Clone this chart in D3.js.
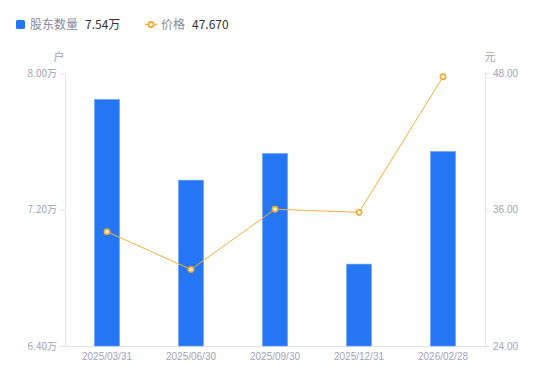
<!DOCTYPE html>
<html><head><meta charset="utf-8">
<script src="https://cdn.jsdelivr.net/npm/d3@7"></script>
<style>body{margin:0;background:#fff;}svg{display:block;font-family:"Noto Sans CJK SC","Noto Sans",sans-serif;}</style>
</head><body>
<svg id="c" width="550" height="381"></svg>
<script>
const categories = ["2025/03/31","2025/06/30","2025/09/30","2025/12/31","2026/02/28"];
const holders = [7.845, 7.372, 7.528, 6.88, 7.54];   // 万户
const prices = [34.05, 30.73, 36.02, 35.75, 47.67];   // 元
const leftTicks = [6.4, 7.2, 8.0];
const rightTicks = [24, 36, 48];

const svg = d3.select("#c");
const L = 65, R = 485, T = 73, B = 346;
const x = d3.scaleBand().domain(categories).range([L, R]);
const yL = d3.scaleLinear().domain([6.4, 8.0]).range([B, T]);
const yR = d3.scaleLinear().domain([24, 48]).range([B, T]);
const axisColor = "#e3e3e8", labelColor = "#a3a3b3";

// axes
const gL = svg.append("g").attr("transform", `translate(${L},0)`)
  .call(d3.axisLeft(yL).tickValues(leftTicks).tickSize(5).tickPadding(3).tickFormat(d => d3.format(".2f")(d) + "万"));
const gR = svg.append("g").attr("transform", `translate(${R},0)`)
  .call(d3.axisRight(yR).tickValues(rightTicks).tickSize(5).tickPadding(3).tickFormat(d3.format(".2f")));
const gX = svg.append("g").attr("transform", `translate(0,${B})`)
  .call(d3.axisBottom(x).tickSize(0).tickPadding(7));
[gL, gR, gX].forEach(g => {
  g.selectAll("path,line").attr("stroke", axisColor);
  g.selectAll("text").attr("fill", labelColor).style("font-size", "10px").style("font-family", "Liberation Sans, Arial, sans-serif");
});
gL.selectAll("text").style("font-family", "'Noto Sans CJK SC',sans-serif").style("font-size","10px");

// bars
const bw = 25;
svg.append("g").selectAll("rect").data(holders).join("rect")
  .attr("x", (d, i) => x(categories[i]) + x.bandwidth() / 2 - bw / 2)
  .attr("y", d => yL(d))
  .attr("width", bw)
  .attr("height", d => B - yL(d))
  .attr("fill", "#2476f5")
  .attr("stroke", "#6aa2f8").attr("stroke-width", 0.6);

// line
const line = d3.line().x((d, i) => x(categories[i]) + x.bandwidth() / 2).y(d => yR(d));
svg.append("path").datum(prices).attr("d", line).attr("fill", "none")
  .attr("stroke", "#f7b03a").attr("stroke-width", 1);
svg.append("g").selectAll("circle").data(prices).join("circle")
  .attr("cx", (d, i) => x(categories[i]) + x.bandwidth() / 2)
  .attr("cy", d => yR(d)).attr("r", 2.6)
  .attr("fill", "#fff").attr("stroke", "#f7a928").attr("stroke-width", 1.6);

// unit labels
svg.append("text").attr("x", 59).attr("y", 61).attr("text-anchor", "middle")
  .attr("fill", labelColor).style("font-size", "11px").text("户");
svg.append("text").attr("x", 490).attr("y", 61).attr("text-anchor", "middle")
  .attr("fill", labelColor).style("font-size", "11px").text("元");

// legend
const lg = svg.append("g");
lg.append("rect").attr("x", 16).attr("y", 20).attr("width", 9).attr("height", 9).attr("rx", 1.5).attr("fill", "#2476f5");
lg.append("text").attr("x", 30).attr("y", 29).attr("fill", "#8a8a99").style("font-size", "12px").text("股东数量");
lg.append("text").attr("x", 85).attr("y", 29).attr("fill", "#333").style("font-size", "12px").text(d3.format(".2f")(holders[4]) + "万");
lg.append("line").attr("x1", 145).attr("x2", 157).attr("y1", 24.5).attr("y2", 24.5).attr("stroke", "#f7b03a").attr("stroke-width", 1.5);
lg.append("circle").attr("cx", 151).attr("cy", 24.5).attr("r", 2.6).attr("fill", "#fff").attr("stroke", "#f7a928").attr("stroke-width", 1.6);
lg.append("text").attr("x", 161).attr("y", 29).attr("fill", "#8a8a99").style("font-size", "12px").text("价格");
lg.append("text").attr("x", 192).attr("y", 29).attr("fill", "#333").style("font-size", "12px").text(d3.format(".3f")(prices[4]));
</script>
</body></html>
